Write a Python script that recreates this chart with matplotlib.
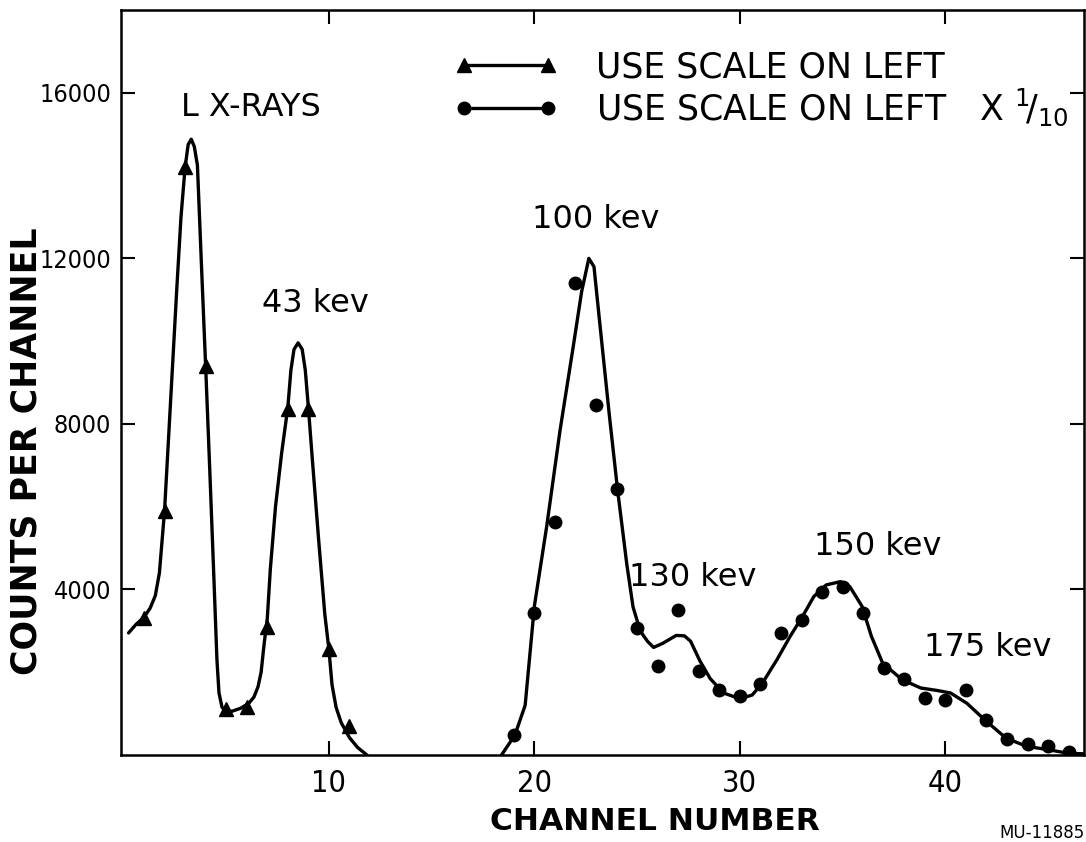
import numpy as np
import matplotlib
matplotlib.use("Agg")
import matplotlib.pyplot as plt
from matplotlib import font_manager as fm
from matplotlib.lines import Line2D
from matplotlib.legend_handler import HandlerLine2D

# measured points, use scale on left
tri_ch = [1, 2, 3, 4, 5, 6, 7, 8, 9, 10, 11]
tri_counts = [3300, 5900, 14200, 9400, 1100, 1150, 3100, 8350, 8350, 2550, 690]

# measured points, use scale on left x 1/10
dot_ch = [19, 20, 21, 22, 23, 24, 25, 26, 27, 28, 29, 30, 31, 32, 33, 34, 35,
          36, 37, 38, 39, 40, 41, 42, 43, 44, 45, 46]
dot_counts = [480, 3420, 5620, 11400, 8450, 6440, 3070, 2140, 3510, 2020, 1570,
              1420, 1710, 2960, 3270, 3950, 4070, 3430, 2100, 1835, 1375, 1335,
              1580, 835, 385, 270, 225, 65]

# hand drawn curves
tri_curve_x = [0.25, 0.6, 1.0, 1.3, 1.55, 1.75, 1.9, 2.0, 2.2, 2.4, 2.6, 2.8, 3.0,
               3.15, 3.3, 3.45, 3.6, 3.8, 4.0, 4.2, 4.4, 4.55, 4.65, 4.8, 5.0, 5.3,
               5.7, 6.1, 6.35, 6.55, 6.7, 6.85, 7.0, 7.15, 7.4, 7.7, 8.0, 8.15, 8.3,
               8.5, 8.7, 8.85, 9.0, 9.2, 9.5, 9.8, 10.0, 10.15, 10.35, 10.6, 11.0,
               11.4, 11.85]
tri_curve_y = [2950, 3150, 3330, 3550, 3850, 4400, 5300, 5900, 7700, 9500, 11300,
               13000, 14200, 14750, 14880, 14700, 14250, 11800, 9400, 6900, 4300,
               2300, 1500, 1150, 1060, 1060, 1130, 1250, 1400, 1650, 2000, 2700,
               3300, 4500, 6000, 7300, 8400, 9300, 9800, 9960, 9800, 9300, 8400,
               7100, 5200, 3400, 2550, 1700, 1150, 780, 420, 180, 0]

dot_curve_x = [18.4, 19.05, 19.55, 20.0, 20.6, 21.25, 21.9, 22.3, 22.65, 22.9,
               23.2, 23.65, 24.05, 24.5, 24.8, 25.15, 25.5, 25.8, 26.25, 26.9,
               27.3, 27.6, 28.05, 28.55, 29.2, 30.0, 30.6, 31.1, 31.8, 32.45,
               33.05, 33.6, 34.2, 34.9, 35.35, 35.95, 36.4, 36.95, 37.9, 38.8,
               39.6, 40.25, 41.05, 41.95, 42.95, 43.95, 45.0, 46.0, 46.7]
dot_curve_y = [0, 480, 1200, 3600, 5530, 7850, 9900, 11200, 12000, 11800, 10350,
               8200, 6400, 4600, 3580, 3000, 2750, 2600, 2700, 2890, 2880, 2750,
               2280, 1850, 1500, 1360, 1450, 1740, 2300, 2870, 3350, 3830, 4110,
               4190, 4070, 3590, 2870, 2220, 1820, 1620, 1560, 1500, 1250, 835,
               410, 210, 130, 40, 30]

peak_labels = ["L X-RAYS", "43 kev", "100 kev", "130 kev", "150 kev", "175 kev"]
label_x = [6.2, 9.35, 23.0, 27.7, 36.7, 42.05]
label_y = [15650, 10900, 12950, 4300, 5030, 2610]


# pick a condensed sans face for the numbers if one is installed
def narrow_font():
    ok = {"notosans", "notosanscondensed", "notosansextracondensed",
          "notosanssemicondensed", "dejavusans", "dejavusanscondensed",
          "liberationsansnarrow", "opensans", "opensanscondensed",
          "robotocondensed", "roboto"}
    best = None
    for f in fm.fontManager.ttflist:
        if f.name.lower().replace(" ", "") not in ok or f.style != "normal":
            continue
        w = f.weight if isinstance(f.weight, int) else fm.weight_dict.get(f.weight, 400)
        s = f.stretch if isinstance(f.stretch, int) else fm.stretch_dict.get(f.stretch, 500)
        if w != 400 or s >= 500:
            continue
        if best is None or abs(s - 200) < abs(best[0] - 200):
            best = (s, f.fname)
    return best[1] if best else None


fig = plt.figure(figsize=(10.86, 8.42), dpi=100)
ax = fig.add_axes([0.1114, 0.1033, 0.8866, 0.8847])

ax.plot(tri_curve_x, tri_curve_y, color="black", lw=2.4, solid_capstyle="round")
ax.plot(dot_curve_x, dot_curve_y, color="black", lw=2.4, solid_capstyle="round")
ax.plot(tri_ch, tri_counts, linestyle="none", marker="^", ms=10, color="black")
ax.plot(dot_ch, dot_counts, linestyle="none", marker="o", ms=9, color="black")

for txt, x, y in zip(peak_labels, label_x, label_y):
    ax.text(x, y, txt, fontsize=23, ha="center", va="center")

ax.set_xlim(-0.12, 46.74)
ax.set_ylim(0, 18000)
ax.set_xticks([10, 20, 30, 40])
ax.set_yticks([4000, 8000, 12000, 16000])

path = narrow_font()
for labs, size in [(ax.get_xticklabels(), 22), (ax.get_yticklabels(), 18)]:
    for lab in labs:
        if path:
            lab.set_fontproperties(fm.FontProperties(fname=path, size=size))
        else:
            lab.set_fontsize(size - 3)

ax.tick_params(direction="in", length=10, width=1.5, top=True, right=True)
ax.tick_params(axis="x", pad=10)
ax.tick_params(axis="y", pad=7)
for s in ax.spines.values():
    s.set_linewidth(1.8)

ax.set_xlabel("CHANNEL NUMBER", fontsize=22.5, fontweight="bold", va="baseline")
ax.xaxis.set_label_coords(0.5545, -0.1007)
ax.set_ylabel("COUNTS PER CHANNEL", fontsize=25, fontweight="bold", va="center")
ax.yaxis.set_label_coords(-0.0985, 0.408)

# legend
h1 = Line2D([], [], color="black", lw=2.4, marker="^", ms=10)
h2 = Line2D([], [], color="black", lw=2.4, marker="o", ms=9)
ax.legend([h1, h2], ["USE SCALE ON LEFT",
                     r"USE SCALE ON LEFT   X $^{1}\!/_{10}$"],
          loc="center left", bbox_to_anchor=(0.326, 0.894), frameon=False,
          numpoints=2, handlelength=4.1, handletextpad=0.55, labelspacing=0.05,
          fontsize=25, borderpad=0, borderaxespad=0,
          handler_map={Line2D: HandlerLine2D(marker_pad=0.85)})

fig.text(0.999, 0.0, "MU-11885", fontsize=12, ha="right", va="bottom")

fig.savefig("out.png", dpi=100)
